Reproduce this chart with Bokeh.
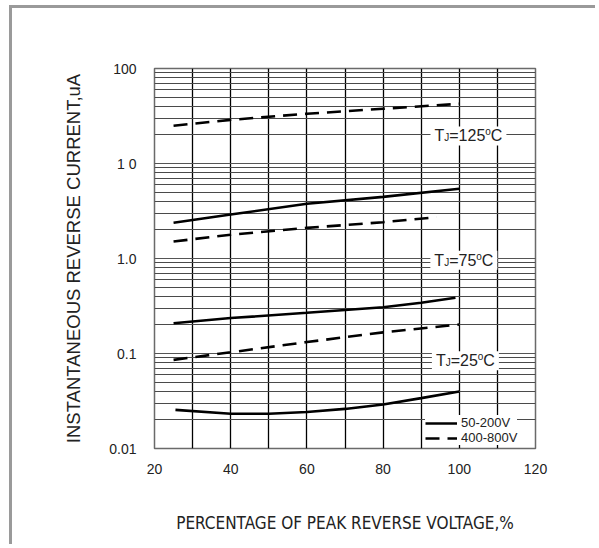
from bokeh.plotting import figure
from bokeh.models import FixedTicker, Label, Legend, LegendItem
from bokeh.embed import file_html
from bokeh.resources import INLINE

# ---------------- data ----------------
x_tick_values = [20, 40, 60, 80, 100, 120]
x_grid_values = [20, 30, 40, 50, 60, 70, 80, 90, 100, 110, 120]
y_tick_values = [0.01, 0.1, 1, 10, 100]
y_tick_labels = ["0.01", "0.1", "1.0", "1 0", "100"]
y_minor_values = [m * d for d in [0.01, 0.1, 1, 10] for m in [2, 3, 4, 5, 6, 7, 8, 9]]

# TJ = 125 C
t125_hv_x = [25, 40, 60, 80, 100]            # 400-800V (dashed)
t125_hv_y = [25.0, 28.8, 33.4, 37.7, 42.5]
t125_lv_x = [25, 40, 60, 80, 100]            # 50-200V (solid)
t125_lv_y = [2.38, 2.9, 3.77, 4.45, 5.42]
# TJ = 75 C
t75_hv_x = [25, 40, 60, 80, 94]
t75_hv_y = [1.51, 1.78, 2.1, 2.41, 2.72]
t75_lv_x = [25, 40, 60, 80, 90, 99]
t75_lv_y = [0.208, 0.236, 0.268, 0.307, 0.342, 0.386]
# TJ = 25 C
t25_hv_x = [25, 40, 60, 80, 100]
t25_hv_y = [0.0857, 0.103, 0.132, 0.167, 0.202]
t25_lv_x = [25.5, 40, 50, 60, 70, 80, 90, 100]
t25_lv_y = [0.0255, 0.0232, 0.0232, 0.0242, 0.0261, 0.029, 0.0339, 0.0398]

legend_labels = ["50-200V", "400-800V"]
temp_labels = ["125", "75", "25"]
temp_label_pos = [(102.4, 19.5), (101.2, 0.96), (101.6, 0.084)]

x_title = "PERCENTAGE OF PEAK REVERSE VOLTAGE,%"
y_title = "INSTANTANEOUS REVERSE CURRENT,uA"

# ---------------- figure ----------------
FONT = "Liberation Sans"
W, H = 586, 539
p = figure(width=W, height=H, x_range=(20, 120), y_range=(0.01, 100),
           y_axis_type="log", output_backend="svg", toolbar_location=None,
           min_border_left=142, min_border_right=63, min_border_top=60,
           min_border_bottom=99)
p.styles = {"border-left": "3px solid #9a9a9a", "border-top": "3px solid #9a9a9a",
            "margin-top": "5px", "margin-left": "9px"}
p.background_fill_color = "white"
p.border_fill_color = "white"
p.outline_line_color = "#6a6a6a"
p.outline_line_width = 1.5

# axes
p.xaxis.ticker = FixedTicker(ticks=x_tick_values)
p.yaxis.ticker = FixedTicker(ticks=y_tick_values, minor_ticks=y_minor_values)
p.yaxis.major_label_overrides = {v: s for v, s in zip(y_tick_values, y_tick_labels)}
for ax in (p.xaxis, p.yaxis):
    ax.axis_line_color = None
    ax.major_tick_line_color = None
    ax.minor_tick_line_color = None
    ax.major_label_text_font = FONT
    ax.major_label_text_font_size = "14px"
    ax.major_label_text_color = "#222222"
    ax.axis_label_text_font_style = "normal"
    ax.axis_label_text_color = "#222222"
p.xaxis.major_label_standoff = 9
p.yaxis.major_label_standoff = 12

p.xaxis.axis_label = x_title
p.xaxis.axis_label_text_font = "'Liberation Sans Narrow', 'DejaVu Sans Condensed', 'Liberation Sans', sans-serif"
p.xaxis.axis_label_text_font_size = "17px"
p.xaxis.axis_label_standoff = 36
p.yaxis.axis_label = y_title
p.yaxis.axis_label_text_font = FONT
p.yaxis.axis_label_text_font_size = "18.5px"
p.yaxis.axis_label_standoff = 22

# grids
p.xgrid.ticker = FixedTicker(ticks=x_grid_values)
p.xgrid.grid_line_color = "black"
p.xgrid.grid_line_width = 1.3
p.ygrid.grid_line_color = "#555555"
p.ygrid.grid_line_width = 1.2
p.ygrid.minor_grid_line_color = "#4a4a4a"
p.ygrid.minor_grid_line_width = 1.0

LW = 2.6
DASH = "14 8"
r_solid = p.line(t125_lv_x, t125_lv_y, line_color="black", line_width=LW)
r_dash = p.line(t125_hv_x, t125_hv_y, line_color="black", line_width=LW, line_dash=DASH)
p.line(t75_lv_x, t75_lv_y, line_color="black", line_width=LW)
p.line(t75_hv_x, t75_hv_y, line_color="black", line_width=LW, line_dash=DASH)
p.line(t25_lv_x, t25_lv_y, line_color="black", line_width=LW)
p.line(t25_hv_x, t25_hv_y, line_color="black", line_width=LW, line_dash=DASH)

# temperature labels: T + subscript J + "=xx" + superscript o + C
em = {"T": 0.611, "J": 0.5, "=": 0.584, "o": 0.556, "C": 0.722}
for d in "0123456789":
    em[d] = 0.556
BIG, SMALL = 16, 10
for temp, (xc, yc) in zip(temp_labels, temp_label_pos):
    pieces = [("T", BIG, 0), ("J", SMALL, -2), ("=" + temp, BIG, 0), ("o", SMALL, 4), ("C", BIG, 0)]
    widths = [sum(em[c] for c in t) * s for t, s, _ in pieces]
    total = sum(widths)
    p.rect(x=[xc], y=[yc], width=total + 8, height=19, width_units="screen",
           height_units="screen", fill_color="white", line_color=None)
    off = -total / 2
    for (t, s, dy), w in zip(pieces, widths):
        p.add_layout(Label(x=xc, y=yc, x_offset=off, y_offset=dy, text=t,
                           text_font=FONT, text_font_size=f"{s}px",
                           text_align="left", text_baseline="middle",
                           text_color="#222222"))
        off += w

# legend
legend = Legend(items=[LegendItem(label=legend_labels[0], renderers=[r_solid]),
                       LegendItem(label=legend_labels[1], renderers=[r_dash])],
                location=(271, 3))
legend.glyph_width = 32
legend.glyph_height = 12
legend.label_height = 12
legend.spacing = 0
legend.padding = 8
legend.margin = 0
legend.label_standoff = 4
legend.label_text_font = FONT
legend.label_text_font_size = "13px"
legend.label_text_color = "#222222"
legend.border_line_color = None
legend.background_fill_color = "white"
legend.background_fill_alpha = 1.0
p.add_layout(legend, "center")

open("out.html", "w").write(file_html(p, INLINE))
